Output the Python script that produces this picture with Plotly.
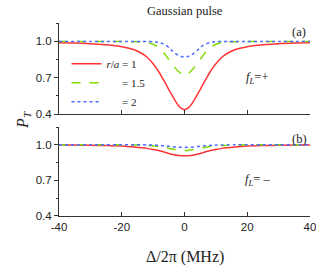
import plotly.graph_objects as go
from plotly.subplots import make_subplots

# Detuning grid (MHz)
delta = [-40, -35, -30, -25, -20, -16, -14, -12, -10, -9, -8, -7, -6, -5, -4, -3, -2, -1, 0,
         1, 2, 3, 4, 5, 6, 7, 8, 9, 10, 12, 14, 16, 20, 25, 30, 35, 40]

# Panel (a): f_L = +
red_a = [0.988, 0.985, 0.980, 0.970, 0.955, 0.930, 0.905, 0.870, 0.815, 0.780, 0.740, 0.695, 0.650, 0.600, 0.555, 0.510, 0.472, 0.446, 0.437,
         0.446, 0.472, 0.510, 0.555, 0.600, 0.650, 0.695, 0.740, 0.780, 0.815, 0.870, 0.905, 0.930, 0.955, 0.970, 0.980, 0.985, 0.988]
green_a = [0.997, 0.997, 0.997, 0.997, 0.997, 0.996, 0.994, 0.990, 0.975, 0.962, 0.945, 0.918, 0.885, 0.850, 0.815, 0.780, 0.752, 0.730, 0.722,
           0.730, 0.752, 0.780, 0.815, 0.850, 0.885, 0.918, 0.945, 0.962, 0.975, 0.990, 0.994, 0.996, 0.997, 0.997, 0.997, 0.997, 0.997]
blue_a = [0.998, 0.998, 0.998, 0.998, 0.998, 0.998, 0.998, 0.998, 0.996, 0.993, 0.988, 0.980, 0.968, 0.948, 0.922, 0.900, 0.884, 0.874, 0.870,
          0.874, 0.884, 0.900, 0.922, 0.948, 0.968, 0.980, 0.988, 0.993, 0.996, 0.998, 0.998, 0.998, 0.998, 0.998, 0.998, 0.998, 0.998]

# Panel (b): f_L = -
red_b = [0.999, 0.998, 0.996, 0.994, 0.990, 0.982, 0.976, 0.970, 0.961, 0.956, 0.950, 0.943, 0.935, 0.927, 0.920, 0.914, 0.910, 0.908, 0.907,
         0.908, 0.910, 0.914, 0.920, 0.927, 0.935, 0.943, 0.950, 0.956, 0.961, 0.970, 0.976, 0.982, 0.990, 0.994, 0.996, 0.998, 0.999]
green_b = [1.0, 1.0, 1.0, 1.0, 1.0, 0.998, 0.997, 0.995, 0.991, 0.988, 0.985, 0.980, 0.975, 0.970, 0.965, 0.960, 0.956, 0.953, 0.952,
           0.953, 0.956, 0.960, 0.965, 0.970, 0.975, 0.980, 0.985, 0.988, 0.991, 0.995, 0.997, 0.998, 1.0, 1.0, 1.0, 1.0, 1.0]
blue_b = [1.0, 1.0, 1.0, 1.0, 1.0, 1.0, 1.0, 0.999, 0.998, 0.997, 0.995, 0.993, 0.990, 0.988, 0.985, 0.982, 0.980, 0.979, 0.978,
          0.979, 0.980, 0.982, 0.985, 0.988, 0.990, 0.993, 0.995, 0.997, 0.998, 0.999, 1.0, 1.0, 1.0, 1.0, 1.0, 1.0, 1.0]

names = ["<i>r</i>/<i>a</i> = 1",
         "<span style='color:rgba(0,0,0,0)'><i>r</i>/<i>a</i> </span>= 1.5",
         "<span style='color:rgba(0,0,0,0)'><i>r</i>/<i>a</i> </span>= 2"]
colors = ["#FF3535", "#7FDD00", "#4F6BFF"]
dashes = ["solid", "dash", "dot"]

x_ticks = [-40, -20, 0, 20, 40]
x_ticktext = ["-40", "-20", "0", "20", "40"]
y_ticks = [0.4, 0.7, 1.0]
y_ticktext = ["0.4", "0.7", "1.0"]

serif = "Liberation Serif"
sans = "Liberation Sans"

fig = make_subplots(rows=2, cols=1, shared_xaxes=False, vertical_spacing=0.07)

for i, ys in enumerate([red_a, green_a, blue_a]):
    fig.add_trace(go.Scatter(x=delta, y=ys, mode="lines", name=names[i],
                             line=dict(color=colors[i], width=1.5, dash=dashes[i],
                                       shape="spline", smoothing=0.6),
                             showlegend=True), row=1, col=1)
for i, ys in enumerate([red_b, green_b, blue_b]):
    fig.add_trace(go.Scatter(x=delta, y=ys, mode="lines", name=names[i],
                             line=dict(color=colors[i], width=1.5, dash=dashes[i],
                                       shape="spline", smoothing=0.6),
                             showlegend=False), row=2, col=1)

axis_common = dict(showline=True, linecolor="#333", linewidth=1, showgrid=False,
                   zeroline=False, mirror=False, automargin=False)
for r in (1, 2):
    fig.update_xaxes(range=[-40, 40], tickvals=x_ticks, ticktext=x_ticktext,
                     ticks="inside", ticklen=4,
                     tickcolor="#333", showticklabels=(r == 2), ticklabeloverflow="allow",
                     tickfont=dict(family=sans, size=11.5, color="#222"),
                     row=r, col=1, **axis_common)
    fig.update_yaxes(range=[0.4, 1.15], tickvals=y_ticks, ticktext=y_ticktext,
                     ticks="outside", ticklen=4, tickcolor="#333",
                     minor=dict(tickvals=[0.55, 0.85, 1.15], ticks="outside", ticklen=2,
                                tickcolor="#333"),
                     tickfont=dict(family=sans, size=11.5, color="#222"),
                     row=r, col=1, **axis_common)

fig.update_layout(
    width=316, height=269,
    margin=dict(l=59, r=6, t=23, b=53),
    paper_bgcolor="white", plot_bgcolor="white",
    xaxis=dict(domain=[0, 1]), yaxis=dict(domain=[0.5285, 1.0]),
    xaxis2=dict(domain=[0, 1]), yaxis2=dict(domain=[0.0, 0.461]),
    legend=dict(x=0.03, y=0.69, xanchor="left", yanchor="middle",
                bgcolor="rgba(0,0,0,0)", font=dict(family=serif, size=11, color="#222"),
                itemwidth=30, tracegroupgap=0),
    showlegend=True,
)

fig.add_annotation(text="Gaussian pulse", xref="paper", yref="paper", x=0.5, y=1.06,
                   yanchor="middle", showarrow=False,
                   font=dict(family=serif, size=12.5, color="#222"))
fig.add_annotation(text="(a)", xref="x", yref="y", x=36.5, y=1.075, showarrow=False,
                   font=dict(family=serif, size=12.5, color="#222"))
fig.add_annotation(text="(b)", xref="x2", yref="y2", x=36.5, y=1.05, showarrow=False,
                   font=dict(family=serif, size=12.5, color="#222"))
fig.add_annotation(text="<i>f</i><sub><i>L</i></sub>=+", xref="x", yref="y", x=23.0, y=0.7,
                   showarrow=False, font=dict(family=serif, size=12.5, color="#222"))
fig.add_annotation(text="<i>f</i><sub><i>L</i></sub>= \u2013", xref="x2", yref="y2", x=23.5, y=0.7,
                   showarrow=False, font=dict(family=serif, size=12.5, color="#222"))
fig.add_annotation(text="<i>P</i><sub><i>T</i></sub>", xref="paper", yref="paper",
                   x=-0.19, y=0.497, textangle=-90, showarrow=False,
                   font=dict(family=serif, size=16, color="#222"))
fig.add_annotation(text="\u0394/2\u03c0 (MHz)", xref="paper", yref="paper",
                   x=0.5, y=-0.21, yanchor="middle", showarrow=False,
                   font=dict(family=serif, size=16, color="#222"))

fig.write_html("out.html", config={"displayModeBar": False},
               post_script="document.body.style.margin='0';document.body.style.overflow='hidden';")
